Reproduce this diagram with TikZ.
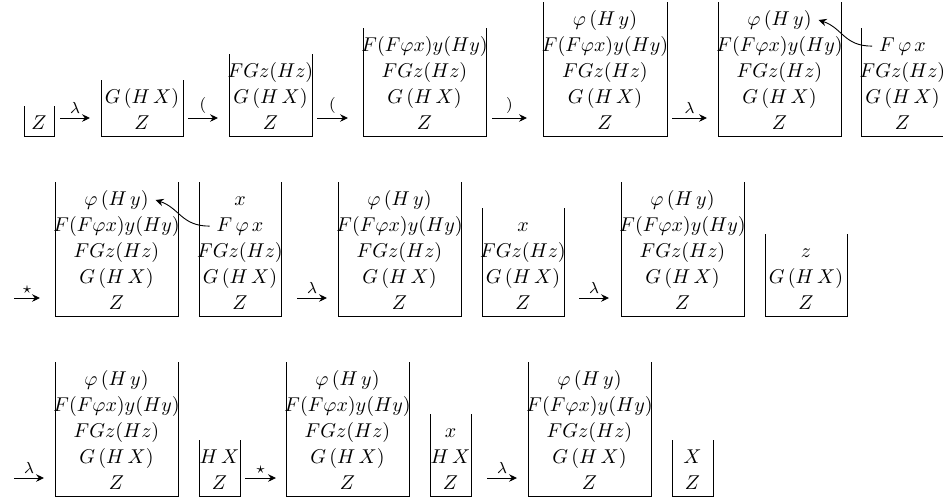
\documentclass[tikz,border=0pt]{standalone}
\usetikzlibrary{calc,arrows.meta}
\tikzset{
  stackline/.style={anchor=base, inner sep=3.33pt},
  stackbox/.style={line width=0.45pt},
  move/.style={-{Stealth[length=4pt,width=3.8pt,inset=1.4pt]}, line width=0.45pt},
  movelabel/.style={above=2.2pt, inner sep=0pt, font=\footnotesize},
  pushline/.style={-{Stealth[length=4pt,width=3.8pt,inset=1.4pt]}, line width=0.45pt}
}
% #1 name, #2 left x, #3 right x, #4 bottom y, #5 number of lines, #6 lines from bottom to top
\newcommand\mystack[6]{%
  \foreach \t [count=\i] in {#6} {%
    \node[stackline] (#1-\i) at ({(#2+#3)/2},{#4-7-26*(\i-1)}) {$\t$};
  }
  \draw[stackbox] (#2,{#4-30-26*(#5-1)}) |- (#3,#4) -- (#3,{#4-30-26*(#5-1)});
}
% #1 name, #2 x start, #3 x end, #4 y, #5 label
\newcommand\mymove[5]{%
  \coordinate (#1s) at (#2,#4);
  \coordinate (#1e) at (#3,#4);
  \draw[move] (#1s) -- node[movelabel] (#1l) {$#5$} (#1e);
}
\begin{document}
\begin{tikzpicture}[x=0.5pt, y=-0.5pt]
\useasboundingbox (0,0) rectangle (943,500);
\clip (0,0) rectangle (943,500);
% row 1
\mystack{s1}{24}{54}{136}{1}{Z}
\mystack{s2}{101}{183}{136}{2}{Z, G\,(H\,X)}
\mystack{s3}{229}{312}{136}{3}{Z, G\,(H\,X), FGz(Hz)}
\mystack{s4}{363}{486}{136}{4}{Z, G\,(H\,X), FGz(Hz), F(F\varphi x)y(Hy)}
\mystack{s5}{543}{667}{136}{5}{Z, G\,(H\,X), FGz(Hz), F(F\varphi x)y(Hy), \varphi\,(H\,y)}
\mystack{s6}{718}{841}{136}{5}{Z, G\,(H\,X), FGz(Hz), F(F\varphi x)y(Hy), \varphi\,(H\,y)}
\mystack{s7}{861.5}{943.5}{136}{4}{Z, G\,(H\,X), FGz(Hz), F\,\varphi\,x}
\mymove{a1}{60}{90}{118}{\lambda}
\mymove{a2}{188}{218}{118}{(}
\mymove{a3}{317}{348}{118}{(}
\mymove{a4}{492}{527}{118}{)}
\mymove{a5}{672}{707}{118}{\lambda}
\draw[pushline] (s7-4.west) .. controls +(-28,0) and +(24,8) .. (s6-5.east);
% row 2
\mystack{t1}{55}{178}{316}{5}{Z, G\,(H\,X), FGz(Hz), F(F\varphi x)y(Hy), \varphi\,(H\,y)}
\mystack{t2}{199}{281}{316}{5}{Z, G\,(H\,X), FGz(Hz), F\,\varphi\,x, x}
\mystack{t3}{338}{461}{316}{5}{Z, G\,(H\,X), FGz(Hz), F(F\varphi x)y(Hy), \varphi\,(H\,y)}
\mystack{t4}{482}{564}{316}{4}{Z, G\,(H\,X), FGz(Hz), x}
\mystack{t5}{621}{744}{316}{5}{Z, G\,(H\,X), FGz(Hz), F(F\varphi x)y(Hy), \varphi\,(H\,y)}
\mystack{t6}{765}{847}{316}{3}{Z, G\,(H\,X), z}
\mymove{b1}{14}{40}{298}{\star}
\mymove{b2}{297}{327}{298}{\lambda}
\mymove{b3}{579}{609}{298}{\lambda}
\draw[pushline] (t2-4.west) .. controls +(-28,0) and +(24,8) .. (t1-5.east);
% row 3
\mystack{u1}{55}{178}{496}{5}{Z, G\,(H\,X), FGz(Hz), F(F\varphi x)y(Hy), \varphi\,(H\,y)}
\mystack{u2}{199}{240}{496}{2}{Z, H\,X}
\mystack{u3}{286}{409}{496}{5}{Z, G\,(H\,X), FGz(Hz), F(F\varphi x)y(Hy), \varphi\,(H\,y)}
\mystack{u4}{430}{471}{496}{3}{Z, H\,X, x}
\mystack{u5}{528}{651}{496}{5}{Z, G\,(H\,X), FGz(Hz), F(F\varphi x)y(Hy), \varphi\,(H\,y)}
\mystack{u6}{672}{713}{496}{2}{Z, X}
\mymove{c1}{14}{44}{478}{\lambda}
\mymove{c2}{245}{276}{478}{\star}
\mymove{c3}{487}{517}{478}{\lambda}
\end{tikzpicture}
\end{document}
